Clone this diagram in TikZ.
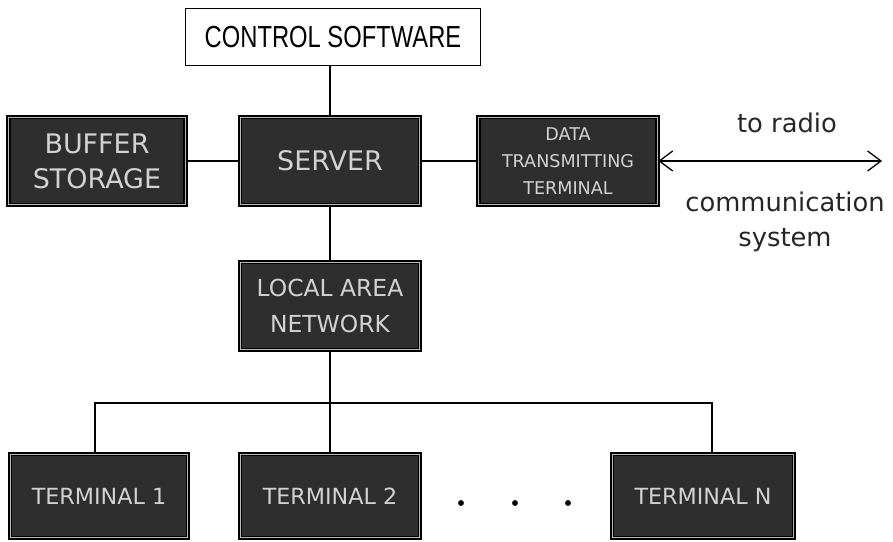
\documentclass[tikz,border=0pt]{standalone}
\usepackage{graphicx}
\usepackage{fontspec}
\setmainfont{DejaVu Sans}
\newfontfamily\ctrlfont{Liberation Sans}
\usetikzlibrary{arrows.meta,positioning}

\begin{document}
\begin{tikzpicture}[
    x=0.03cm, y=-0.03cm,
    darkbox/.style={rectangle, draw=black, line width=1.6pt, double=gray!55, double distance=0.6pt,
        fill=black!82, text=gray!35, align=center, inner sep=0pt},
    whitebox/.style={rectangle, draw=black, line width=1.4pt, fill=white, inner sep=0pt},
    conn/.style={line width=1.1pt},
    arrow/.style={{Straight Barb[length=4mm,width=6mm]}-{Straight Barb[length=4mm,width=6mm]}, line width=1.1pt},
    lbl/.style={font=\fontsize{22}{26}\selectfont, text=black!85},
    dot/.style={circle, fill=black, inner sep=0pt, minimum size=5pt}
]
    \useasboundingbox (0,0) rectangle (893,542);

    % Control software
    \node[whitebox, minimum width=8.84cm, minimum height=1.70cm] (ctrl) at (333,37)
        {\ctrlfont\fontsize{26}{30}\selectfont\scalebox{0.78}[1]{CONTROL SOFTWARE}};

    % Server row
    \node[darkbox, minimum width=5.30cm, minimum height=2.63cm,
        font=\fontsize{23}{30}\selectfont] (buffer) at (97,161) {BUFFER\\STORAGE};
    \node[darkbox, minimum width=5.39cm, minimum height=2.63cm,
        font=\fontsize{23}{30}\selectfont] (server) at (330,161) {SERVER};
    \node[darkbox, minimum width=5.36cm, minimum height=2.63cm,
        font=\fontsize{15}{23}\selectfont] (dtt) at (568,161) {DATA\\TRANSMITTING\\TERMINAL};

    % Radio side
    \coordinate (radio) at (882,161);
    \node[lbl] (toradio) at (787,123) {to radio};
    \node[lbl] (commun) at (785,202) {communication};
    \node[lbl] (system) at (785,240) {system};

    % Local area network
    \node[darkbox, minimum width=5.39cm, minimum height=2.63cm,
        font=\fontsize{20}{30}\selectfont] (lan) at (330,306) {LOCAL AREA\\NETWORK};

    % Terminals
    \node[darkbox, minimum width=5.33cm, minimum height=2.51cm,
        font=\fontsize{19}{23}\selectfont] (t1) at (99,496) {TERMINAL 1};
    \node[darkbox, minimum width=5.39cm, minimum height=2.51cm,
        font=\fontsize{19}{23}\selectfont] (t2) at (330,496) {TERMINAL 2};
    \node[darkbox, minimum width=5.45cm, minimum height=2.51cm,
        font=\fontsize{19}{23}\selectfont] (tn) at (703,496) {TERMINAL N};
    \foreach \i/\x in {1/461, 2/515, 3/568}
        \node[dot] (dot\i) at (\x,503) {};

    % Connections
    \coordinate (busL) at (95,403);
    \coordinate (busR) at (712,403);
    \draw[conn] (server.north) -- (server.north |- ctrl.south);
    \draw[conn] (buffer) -- (server);
    \draw[conn] (server) -- (dtt);
    \draw[arrow] (dtt) -- (radio);
    \draw[conn] (server) -- (lan);
    \draw[conn] (lan) -- (t2);
    \draw[conn] (busL |- t1.north) -- (busL) -- (busR) -- (busR |- tn.north);
\end{tikzpicture}
\end{document}
